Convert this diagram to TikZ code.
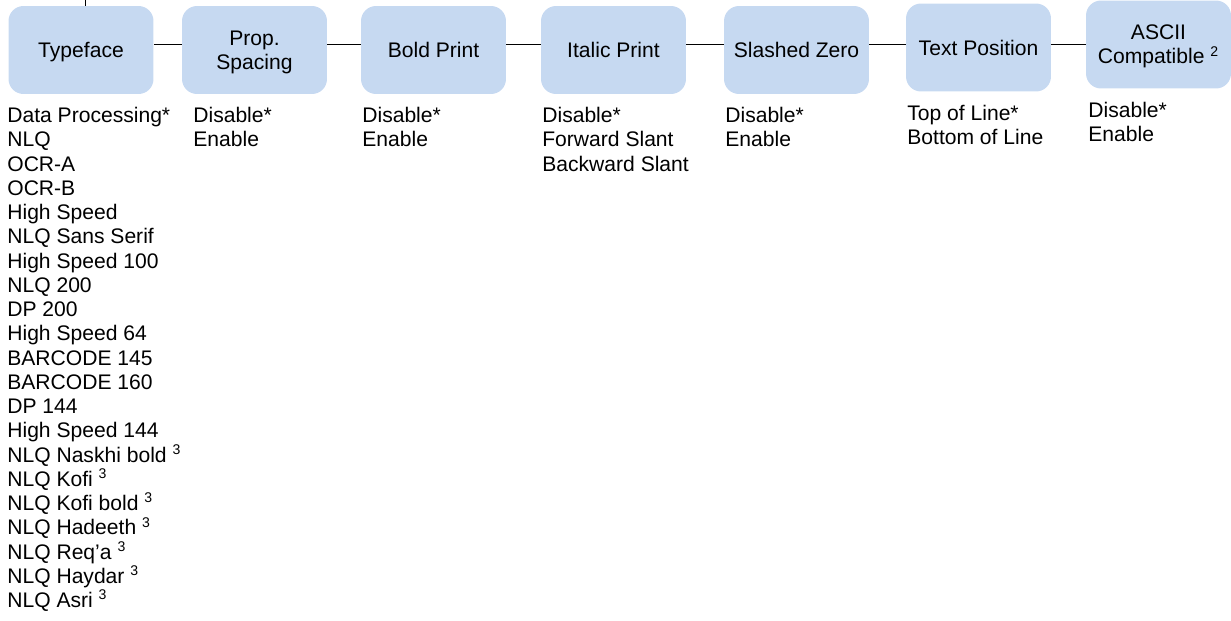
\documentclass[tikz,border=0pt]{standalone}
\usepackage{fontspec}
\setmainfont{Liberation Sans}
\usetikzlibrary{positioning}
\definecolor{boxblue}{HTML}{C6D9F1}

\begin{document}
\begin{tikzpicture}[x=0.02cm,y=-0.02cm,
  menu/.style={fill=boxblue,rounded corners=0.3cm,minimum width=2.9cm,minimum height=1.76cm,align=center,inner sep=0pt,text depth=0pt},
  opts/.style={anchor=north west,align=left,inner sep=0pt}]
  \useasboundingbox (0,0) rectangle (1231,620);
  \fontsize{12}{13.8}\selectfont
  \coordinate (line) at (0,44);
  \coordinate (top) at (85,0);
  \node[menu] (typeface) at (81,50) {Typeface};
  \node[menu] (prop) at (254.5,50) {Prop.\\Spacing};
  \node[menu] (bold) at (433.5,50) {Bold Print};
  \node[menu] (italic) at (613.5,50) {Italic Print};
  \node[menu] (slashed) at (796.5,50) {Slashed Zero};
  \node[menu] (textpos) at (978.5,47.5) {Text Position};
  \node[menu] (ascii) at (1158.5,44.5) {ASCII\\Compatible \textsuperscript{2}};
  \draw (top) -- (top |- typeface.north);
  \draw (typeface.east |- line) -- (prop.west |- line);
  \draw (prop.east |- line) -- (bold.west |- line);
  \draw (bold.east |- line) -- (italic.west |- line);
  \draw (italic.east |- line) -- (slashed.west |- line);
  \draw (slashed.east |- line) -- (textpos.west |- line);
  \draw (textpos.east |- line) -- (ascii.west |- line);
  \node[opts] (typefacelist) at (7,107) {Data Processing*\\NLQ\\OCR-A\\OCR-B\\High Speed\\NLQ Sans Serif\\High Speed 100\\NLQ 200\\DP 200\\High Speed 64\\BARCODE 145\\BARCODE 160\\DP 144\\High Speed 144\\NLQ Naskhi bold \textsuperscript{3}\\NLQ Kofi \textsuperscript{3}\\NLQ Kofi bold \textsuperscript{3}\\NLQ Hadeeth \textsuperscript{3}\\NLQ Req’a \textsuperscript{3}\\NLQ Haydar \textsuperscript{3}\\NLQ Asri \textsuperscript{3}};
  \node[opts] (proplist) at (193,107) {Disable*\\Enable};
  \node[opts] (boldlist) at (362,107) {Disable*\\Enable};
  \node[opts] (italiclist) at (542,107) {Disable*\\Forward Slant\\Backward Slant};
  \node[opts] (slashedlist) at (725,107) {Disable*\\Enable};
  \node[opts] (textposlist) at (907,105) {Top of Line*\\Bottom of Line};
  \node[opts] (asciilist) at (1088,102) {Disable*\\Enable};
\end{tikzpicture}
\end{document}
